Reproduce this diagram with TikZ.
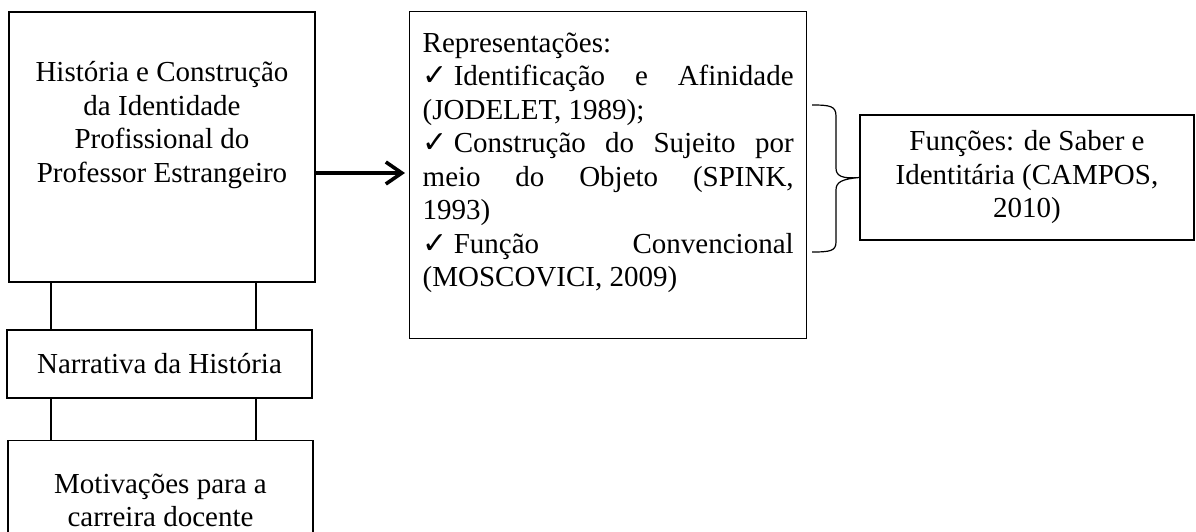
\documentclass[tikz,border=0pt]{standalone}
\usepackage{fontspec}
\setmainfont{Liberation Serif}
\newfontfamily\symfont{DejaVu Sans}
\usetikzlibrary{arrows.meta}
\newcommand{\chk}{{\symfont\fontsize{15pt}{15pt}\selectfont ✓}\hspace{3pt}}
\begin{document}
\begin{tikzpicture}[x=0.5pt, y=-0.5pt,
  box/.style={draw, line width=0.6pt, inner sep=0pt, font=\fontsize{14.5pt}{16.75pt}\selectfont},
  ln/.style={line width=0.6pt},
  arr/.style={-{Straight Barb[length=8pt,width=11pt]}, line width=1.8pt, shorten >=2pt}]
\useasboundingbox (0,0) rectangle (1196,531);
\clip (0,0) rectangle (1196,531);
\node[box, minimum width=153pt, minimum height=135pt, align=center] (hist) at (162,147) {História e Construção\\da Identidade\\Profissional do\\Professor Estrangeiro\rule[-25pt]{0pt}{25pt}};
\node[box, minimum width=152.5pt, minimum height=34pt] (narr) at (159.5,364) {Narrativa da História};
\node[box, minimum width=152.5pt, inner ysep=16.5pt, anchor=north, align=center] (motiv) at (160.5,440) {Motivações para a\\carreira docente};
\node[box, line width=0.7pt, anchor=north west, text width=185.5pt, inner xsep=6.5pt, inner ysep=10.5pt, align=justify] (repr) at (409,11) {Representações:\newline
\chk Identificação e Afinidade\linebreak (JODELET, 1989);\newline
\chk Construção do Sujeito por\linebreak meio do Objeto (SPINK,\linebreak 1993)\newline
\chk Função Convencional\linebreak (MOSCOVICI, 2009)\rule[-15.5pt]{0pt}{15.5pt}};
\node[box, minimum width=167pt, minimum height=62.5pt, align=center] (func) at (1027,177.5) {Funções: de Saber e\\Identitária (CAMPOS,\\2010)};
% ligacoes
\coordinate (lx) at (51,0);
\coordinate (rx) at (256,0);
\coordinate (ay) at (0,173);
\draw[ln] (hist.south -| lx) -- (narr.north -| lx);
\draw[ln] (hist.south -| rx) -- (narr.north -| rx);
\draw[ln] (narr.south -| lx) -- (motiv.north -| lx);
\draw[ln] (narr.south -| rx) -- (motiv.north -| rx);
\draw[arr] (hist.east |- ay) -- (repr.west |- ay);
% chave
\draw[ln] (812,105) .. controls (830,105) and (836,106) .. (836,116) -- (836,168) .. controls (836,176) and (842,179) .. (func.west) .. controls (842,179) and (836,182) .. (836,190) -- (836,242) .. controls (836,251) and (830,252) .. (812,252);
\end{tikzpicture}
\end{document}
